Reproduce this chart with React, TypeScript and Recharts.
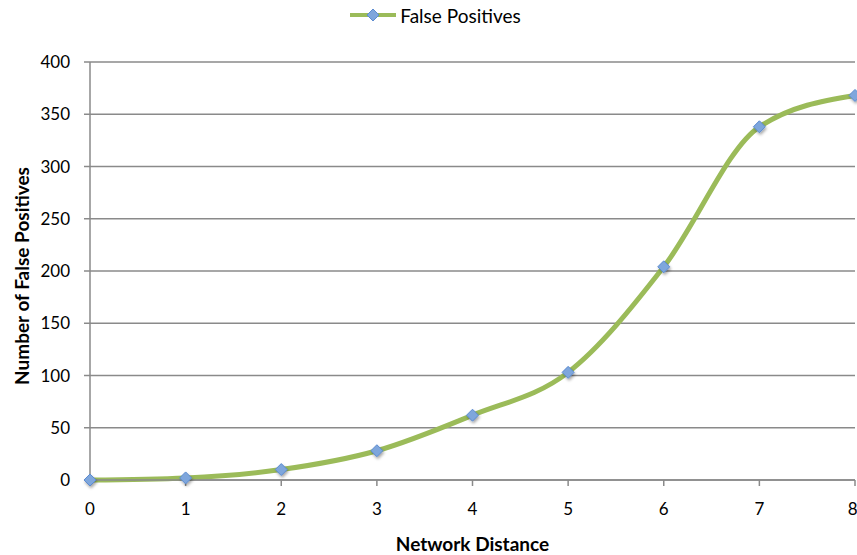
import {
  LineChart,
  Line,
  XAxis,
  YAxis,
  CartesianGrid,
  Legend,
} from "recharts";

const distances = [0, 1, 2, 3, 4, 5, 6, 7, 8];
const falsePositives = [0, 2, 10, 28, 62, 103, 204, 338, 368];
const yTicks = [0, 50, 100, 150, 200, 250, 300, 350, 400];

const data = distances.map((d, i) => ({ distance: d, fp: falsePositives[i] }));

const FONT = "Lato, 'Open Sans', sans-serif";
const GREEN = "#9bbb59";
const GRID = "#8a8a8a";

function Diamond(props: any) {
  const { cx, cy } = props;
  if (cx == null || cy == null) return null;
  const r = 6;
  return (
    <polygon
      points={`${cx},${cy - r} ${cx + r},${cy} ${cx},${cy + r} ${cx - r},${cy}`}
      fill="#7ea6dc"
      stroke="#5b8bd0"
      strokeWidth={1}
      filter="url(#dotShadow)"
    />
  );
}

function LegendBox() {
  return (
    <div
      style={{
        display: "flex",
        justifyContent: "center",
        alignItems: "center",
        height: 24,
        fontFamily: FONT,
        fontSize: 19,
        color: "#000",
        paddingLeft: 16,
      }}
    >
      <svg width={46} height={14} style={{ marginRight: 4 }}>
        <line x1={0} y1={7} x2={46} y2={7} stroke={GREEN} strokeWidth={4} />
        <polygon points="23,1 29,7 23,13 17,7" fill="#7ea6dc" stroke="#5b8bd0" />
      </svg>
      <span>False Positives</span>
    </div>
  );
}

function YTitle(props: any) {
  const vb = props.viewBox || {};
  const cy = (vb.y ?? 0) + (vb.height ?? 0) / 2 + 5;
  const x = 21;
  return (
    <text
      x={x}
      y={cy}
      transform={`rotate(-90, ${x}, ${cy})`}
      textAnchor="middle"
      dominantBaseline="central"
      fontFamily={FONT}
      fontWeight="bold"
      fontSize={19}
      fill="#000"
    >
      Number of False Positives
    </text>
  );
}

export default function App() {
  return (
    <div style={{ position: "absolute", left: 0, top: 0 }}>
      <LineChart
        width={857}
        height={555}
        data={data}
        margin={{ top: 38, right: 2, left: 0, bottom: 0 }}
      >
        <defs>
          <filter id="dotShadow" x="-50%" y="-50%" width="200%" height="200%">
            <feDropShadow dx={1} dy={2} stdDeviation={1.5} floodColor="#000" floodOpacity={0.35} />
          </filter>
        </defs>
        <Legend
          verticalAlign="top"
          align="center"
          content={() => <LegendBox />}
          wrapperStyle={{ top: 3 }}
        />
        <CartesianGrid vertical={false} stroke={GRID} strokeWidth={1.5} />
        <XAxis
          dataKey="distance"
          type="number"
          domain={[0, 8]}
          ticks={distances}
          height={75}
          stroke={GRID}
          strokeWidth={1.5}
          tickSize={6}
          tickMargin={17}
          tick={{ fill: "#000", fontSize: 17, fontFamily: FONT }}
          label={{
            value: "Network Distance",
            position: "insideBottom",
            offset: 4,
            fill: "#000",
            fontSize: 19,
            fontWeight: "bold",
            fontFamily: FONT,
          }}
        />
        <YAxis
          domain={[0, 400]}
          ticks={yTicks}
          width={90}
          stroke={GRID}
          strokeWidth={1.5}
          tickSize={6}
          tickMargin={14}
          tick={{ fill: "#000", fontSize: 17, fontFamily: FONT }}
          label={<YTitle />}
        />
        <Line
          dataKey="fp"
          type="monotone"
          stroke={GREEN}
          strokeWidth={5}
          dot={<Diamond />}
          activeDot={false}
          isAnimationActive={false}
        />
      </LineChart>
    </div>
  );
}
